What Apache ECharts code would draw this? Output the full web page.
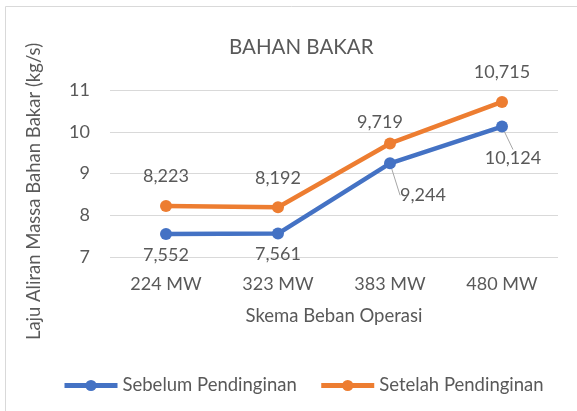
<!DOCTYPE html>
<html><head><meta charset="utf-8">
<script src="https://cdn.jsdelivr.net/npm/echarts@6/dist/echarts.min.js"></script>
<style>html,body{margin:0;padding:0;background:#fff}#c{width:577px;height:411px}</style>
</head><body><div id="c"></div>
<script>
const categories = ['224 MW', '323 MW', '383 MW', '480 MW'];
const sebelum = [7.552, 7.561, 9.244, 10.124];
const setelah = [8.223, 8.192, 9.719, 10.715];
const yTicks = [7, 8, 9, 10, 11];

const FONT = 'Lato';
const TXT = '#595959';
const fmt = v => String(v.toFixed(3)).replace('.', ',');

const blueOffsets = [[0, 0], [23, 0], [33, 11], [11, 11]];
const orangeOffsets = [[0, 0], [0, 1], [-10, 9], [0, 0]];

const chart = echarts.init(document.getElementById('c'));
chart.setOption({
  animation: false,
  textStyle: { fontFamily: FONT },
  graphic: [{ type: 'rect', shape: { x: 5.5, y: 6.5, width: 620, height: 450 }, style: { fill: 'none', stroke: '#d9d9d9', lineWidth: 1 }, silent: true }],
  title: { text: 'BAHAN BAKAR', left: 224, top: 32, textStyle: { fontFamily: FONT, fontSize: 20.5, fontWeight: 'normal', color: TXT } },
  grid: { left: 110, right: 19, top: 90, bottom: 154 },
  legend: {
    left: 57, top: 371, itemWidth: 53, itemHeight: 14, itemGap: 22,
    lineStyle: { width: 5 },
    textStyle: { fontFamily: FONT, fontSize: 18.5, color: TXT },
    data: ['Sebelum Pendinginan', 'Setelah Pendinginan']
  },
  xAxis: {
    type: 'category', data: categories, boundaryGap: true,
    name: 'Skema Beban Operasi', nameLocation: 'middle', nameGap: 50,
    nameTextStyle: { fontFamily: FONT, fontSize: 18.5, color: TXT },
    axisLine: { show: false }, axisTick: { show: false },
    axisLabel: { fontFamily: FONT, fontSize: 18, color: TXT, margin: 18 }
  },
  yAxis: {
    type: 'value', min: yTicks[0], max: yTicks[yTicks.length - 1], interval: 1,
    name: 'Laju Aliran Massa Bahan Bakar (kg/s)', nameLocation: 'middle', nameGap: 66,
    nameTextStyle: { fontFamily: FONT, fontSize: 18.5, color: TXT, padding: [0, 36, 0, 0] },
    axisLine: { show: false }, axisTick: { show: false },
    axisLabel: { fontFamily: FONT, fontSize: 18, color: TXT, margin: 20 },
    splitLine: { lineStyle: { color: '#d9d9d9', width: 1 } }
  },
  series: [
    {
      name: 'Sebelum Pendinginan', type: 'line', color: '#4472C4',
      data: sebelum.map((v, i) => ({ value: v, label: { offset: i < 2 ? blueOffsets[i] : [0, 0] }, labelLine: { show: i >= 2 } })),
      symbol: 'circle', symbolSize: 12, lineStyle: { width: 4.5 },
      label: { show: true, position: 'bottom', distance: 6, fontFamily: FONT, fontSize: 18, color: TXT, formatter: p => fmt(p.value) },
      labelLine: { lineStyle: { color: '#a6a6a6', width: 1 } },
      labelLayout: p => p.dataIndex >= 2 ? { dx: blueOffsets[p.dataIndex][0], dy: blueOffsets[p.dataIndex][1] } : {}
    },
    {
      name: 'Setelah Pendinginan', type: 'line', color: '#ED7D31',
      data: setelah.map((v, i) => ({ value: v, label: { offset: orangeOffsets[i] } })),
      symbol: 'circle', symbolSize: 12, lineStyle: { width: 4.5 },
      label: { show: true, position: 'top', distance: 15, fontFamily: FONT, fontSize: 18, color: TXT, formatter: p => fmt(p.value) }
    }
  ]
});
</script></body></html>
